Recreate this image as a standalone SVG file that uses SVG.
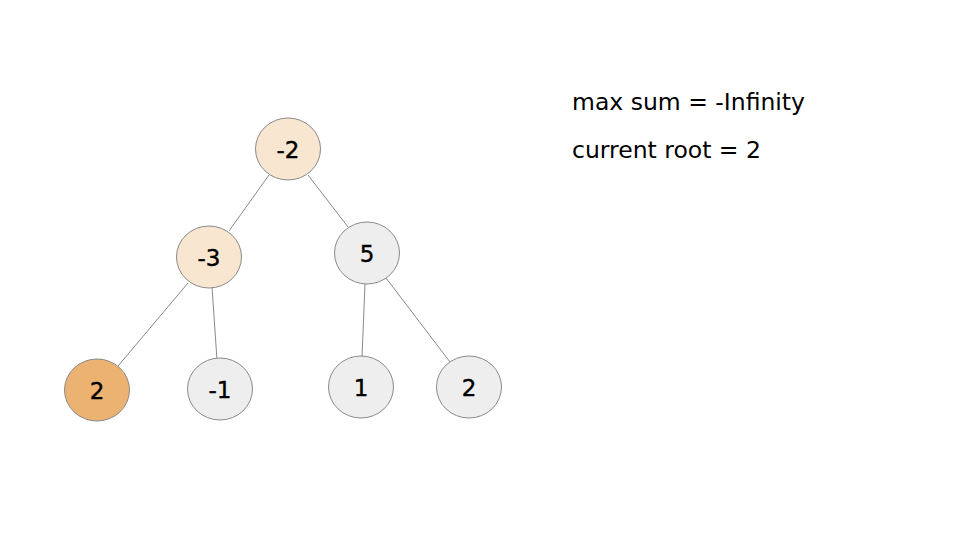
<svg xmlns="http://www.w3.org/2000/svg" width="960" height="540" viewBox="0 0 960 540">
<style>
.n ellipse{stroke:#8a8a8a;stroke-width:1}
.n text{font-family:"DejaVu Sans",Verdana,sans-serif;font-size:23px;fill:#000;text-anchor:middle;dominant-baseline:central;stroke:#000;stroke-width:0.4}
.visited{fill:#F9E6D0}
.cur{fill:#EBB272}
.idle{fill:#EEEEEE}
#edges line{stroke:#8a8a8a;stroke-width:1}
.info{font-family:"DejaVu Sans",Verdana,sans-serif;font-size:23.5px;fill:#000}
</style>
<rect width="960" height="540" fill="#fff"/>
<g id="edges">
<line x1="269" y1="175" x2="229" y2="231"/>
<line x1="308" y1="175" x2="348" y2="227"/>
<line x1="188" y1="283" x2="118" y2="366"/>
<line x1="212" y1="287" x2="217" y2="360"/>
<line x1="365" y1="284" x2="362" y2="357"/>
<line x1="386" y1="278" x2="450" y2="362"/>
</g>
<g id="n-root" class="n"><ellipse class="visited" cx="288" cy="149" rx="32.5" ry="31"/><text x="288" y="150">-2</text></g>
<g id="n-m3" class="n"><ellipse class="visited" cx="209" cy="257" rx="32.5" ry="31"/><text x="209" y="258">-3</text></g>
<g id="n-5" class="n"><ellipse class="idle" cx="367" cy="253" rx="32.5" ry="31"/><text x="367" y="254">5</text></g>
<g id="n-2a" class="n"><ellipse class="cur" cx="97" cy="390" rx="32.5" ry="31"/><text x="97" y="391">2</text></g>
<g id="n-m1" class="n"><ellipse class="idle" cx="220" cy="389" rx="32.5" ry="31"/><text x="220" y="390">-1</text></g>
<g id="n-1" class="n"><ellipse class="idle" cx="361" cy="387" rx="32.5" ry="31"/><text x="361" y="388">1</text></g>
<g id="n-2b" class="n"><ellipse class="idle" cx="469" cy="387" rx="32.5" ry="31"/><text x="469" y="388">2</text></g>
<text class="info" x="572" y="110">max sum = -Infinity</text>
<text class="info" x="572" y="158">current root = 2</text>
</svg>
